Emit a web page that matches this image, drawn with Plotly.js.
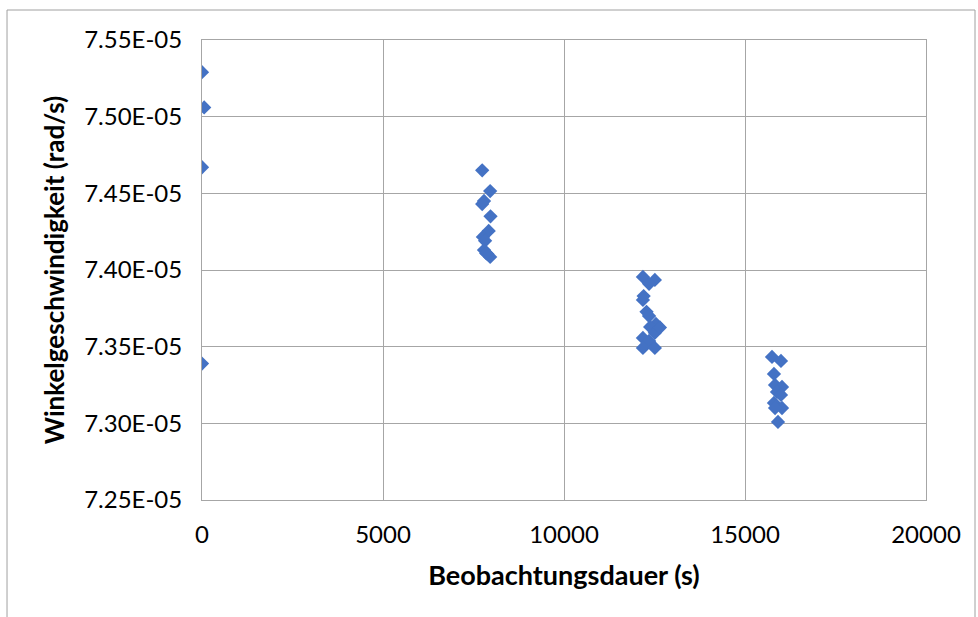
<!DOCTYPE html>
<html>
<head>
<meta charset="utf-8">
<script src="https://cdn.plot.ly/plotly-3.0.1.min.js"></script>
<style>
html,body{margin:0;padding:0;background:#fff;}
#chart{width:978px;height:617px;}
</style>
</head>
<body>
<div id="chart"></div>
<script>
// Observation duration (s)
const dauer = [
  0, 60, 0, 0,
  7740, 7960, 7790, 7740, 7970, 7920, 7760, 7820, 7790, 7880, 7960, 7850,
  12180, 12510, 12350, 12200, 12180, 12280, 12350, 12540, 12380, 12510, 12650, 12180, 12350, 12180, 12510,
  15746, 15994, 15800, 15830, 16022, 15884, 15994, 15800, 16022, 15830, 15911
];
// Angular velocity (rad/s)
const winkelgeschw = [
  7.529e-5, 7.506e-5, 7.467e-5, 7.339e-5,
  7.465e-5, 7.4515e-5, 7.445e-5, 7.443e-5, 7.435e-5, 7.4255e-5, 7.4216e-5, 7.419e-5, 7.413e-5, 7.4105e-5, 7.4085e-5, 7.411e-5,
  7.3955e-5, 7.3935e-5, 7.391e-5, 7.383e-5, 7.3805e-5, 7.3727e-5, 7.370e-5, 7.3648e-5, 7.3629e-5, 7.359e-5, 7.3625e-5, 7.3557e-5, 7.3537e-5, 7.3492e-5, 7.3492e-5,
  7.3433e-5, 7.3407e-5, 7.3322e-5, 7.325e-5, 7.3237e-5, 7.3205e-5, 7.3185e-5, 7.3133e-5, 7.310e-5, 7.310e-5, 7.3009e-5
];
const yTickVals = [7.25e-5, 7.30e-5, 7.35e-5, 7.40e-5, 7.45e-5, 7.50e-5, 7.55e-5];
const yTickText = ["7.25E-05", "7.30E-05", "7.35E-05", "7.40E-05", "7.45E-05", "7.50E-05", "7.55E-05"];
const xTickVals = [0, 5000, 10000, 15000, 20000];
const xTickText = ["0", "5000", "10000", "15000", "20000"];

const trace = {
  x: dauer, y: winkelgeschw, type: 'scatter', mode: 'markers',
  marker: {symbol: 'diamond', size: 11, color: '#4472C4', line: {width: 0}},
  hoverinfo: 'x+y'
};
const fontFam = 'Lato, "Open Sans", sans-serif';
const layout = {
  width: 978, height: 617,
  margin: {l: 202, r: 52, t: 40, b: 117},
  paper_bgcolor: '#fff', plot_bgcolor: '#fff',
  showlegend: false,
  font: {family: fontFam, size: 24, color: '#000'},
  xaxis: {
    range: [0, 20000], tickmode: 'array', tickvals: xTickVals, ticktext: xTickText,
    showgrid: true, gridcolor: '#a6a6a6', gridwidth: 1,
    zeroline: false, showline: true, linecolor: '#a6a6a6', mirror: true,
    ticks: 'outside', ticklen: 13, tickcolor: 'rgba(0,0,0,0)',
    tickfont: {family: fontFam, size: 24, color: '#000'},
    title: {text: '<b>Beobachtungsdauer (s)</b>', font: {family: fontFam, size: 27, color: '#000'}, standoff: 19}
  },
  yaxis: {
    range: [7.25e-5, 7.55e-5], tickmode: 'array', tickvals: yTickVals, ticktext: yTickText,
    showgrid: true, gridcolor: '#a6a6a6', gridwidth: 1,
    zeroline: false, showline: true, linecolor: '#a6a6a6', mirror: true,
    ticks: 'outside', ticklen: 14, tickcolor: 'rgba(0,0,0,0)',
    tickfont: {family: fontFam, size: 24, color: '#000'},
    title: {text: '<b>Winkelgeschwindigkeit (rad/s)</b>', font: {family: fontFam, size: 26, color: '#000'}, standoff: 12}
  },
  shapes: [{
    type: 'rect', xref: 'paper', yref: 'paper',
    x0: -0.2693, x1: 1.0677, y0: -0.3, y1: 1.0652,
    line: {color: '#a0a0a0', width: 1}, fillcolor: 'rgba(0,0,0,0)', layer: 'below'
  }]
};
Plotly.newPlot('chart', [trace], layout, {displayModeBar: false, staticPlot: true});
</script>
</body>
</html>
